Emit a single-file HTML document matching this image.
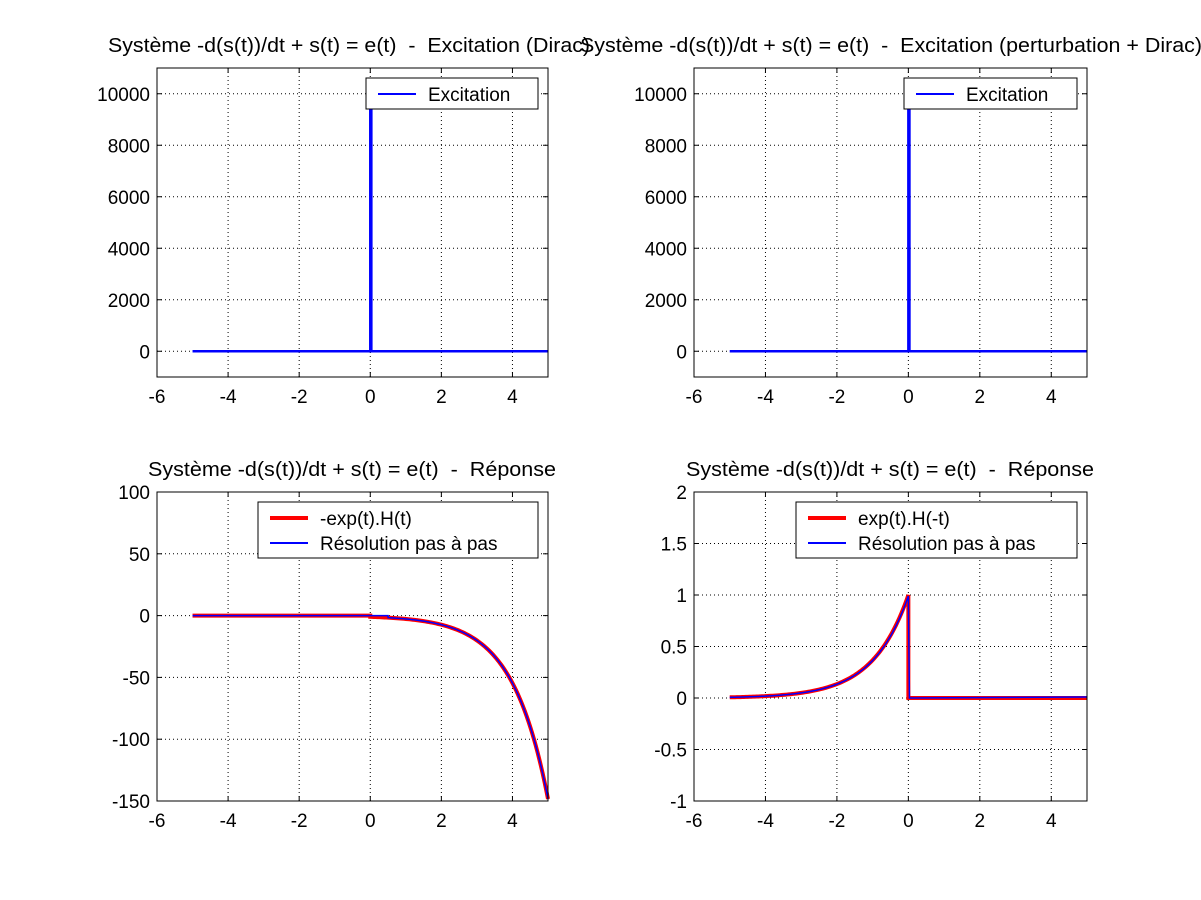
<!DOCTYPE html>
<html><head><meta charset="utf-8"><style>body{margin:0;background:#fff}svg{display:block;font-family:"Liberation Sans",Arial,sans-serif}text{white-space:pre}</style></head>
<body>
<svg id="s" width="1201" height="900" xmlns="http://www.w3.org/2000/svg"></svg>
<script>
const s=document.getElementById('s');let h='';
function ax(L,R,T,B,y0,y1,yt,title,tx,tw,fn){
 const X=t=>L+(t+6)/11*(R-L), Y=v=>T+(y1-v)/(y1-y0)*(B-T);
 h+=`<rect x="${L}" y="${T}" width="${R-L}" height="${B-T}" fill="#fff"/>`;
 for(let t=-4;t<=4;t+=2){const x=X(t);h+=`<line x1="${x}" y1="${T}" x2="${x}" y2="${B}" stroke="#000" stroke-dasharray="1,3" stroke-width="1"/>`;}
 yt.forEach(v=>{const y=Y(v);h+=`<line x1="${L}" y1="${y}" x2="${R}" y2="${y}" stroke="#000" stroke-dasharray="1,3" stroke-width="1"/><line x1="${L}" y1="${y}" x2="${L+5}" y2="${y}" stroke="#000"/><line x1="${R-5}" y1="${y}" x2="${R}" y2="${y}" stroke="#000"/><text x="${L-7}" y="${y+7}" font-size="19" text-anchor="end">${v}</text>`;});
 for(let t=-6;t<=4;t+=2){const x=X(t);h+=`<line x1="${x}" y1="${B}" x2="${x}" y2="${B-5}" stroke="#000"/><line x1="${x}" y1="${T}" x2="${x}" y2="${T+5}" stroke="#000"/><text x="${x}" y="${B+26}" font-size="19" text-anchor="middle">${t}</text>`;}
 fn(X,Y);
 h+=`<rect x="${L}" y="${T}" width="${R-L}" height="${B-T}" fill="none" stroke="#000"/>`;
 h+=`<text x="${tx}" y="${T-16}" font-size="20" textLength="${tw}" lengthAdjust="spacingAndGlyphs" xml:space="preserve">${title}</text>`;
}
function pl(pts,c,w){h+=`<polyline points="${pts.map(p=>p.join(',')).join(' ')}" fill="none" stroke="${c}" stroke-width="${w}"/>`;}
function dirac(X,Y){pl([[X(-5),Y(0)],[X(0),Y(0)],[X(0),Y(10000)],[X(0.03),Y(10000)],[X(0.03),Y(0)],[X(5),Y(0)]],'#00f',2.5);}
function leg1(x1,x2,y1,y2,items){
 h+=`<rect x="${x1}" y="${y1}" width="${x2-x1}" height="${y2-y1}" fill="#fff" stroke="#000"/>`;
 items.forEach((it,i)=>{const y=y1+16+i*25;h+=`<line x1="${x1+12}" y1="${y}" x2="${x1+50}" y2="${y}" stroke="${it[1]}" stroke-width="${it[2]}"/><text x="${x1+62}" y="${y+7}" font-size="19">${it[0]}</text>`;});
}
ax(157,548,68,377,-1000,11000,[0,2000,4000,6000,8000,10000],'Système -d(s(t))/dt + s(t) = e(t)  -  Excitation (Dirac)',108,482,(X,Y)=>{dirac(X,Y);leg1(366,538,78,109,[['Excitation','#00f',2]]);});
ax(694,1087,68,377,-1000,11000,[0,2000,4000,6000,8000,10000],'Système -d(s(t))/dt + s(t) = e(t)  -  Excitation (perturbation + Dirac)',580,622,(X,Y)=>{dirac(X,Y);leg1(904,1077,78,109,[['Excitation','#00f',2]]);});
ax(157,548,492,801,-150,100,[-150,-100,-50,0,50,100],'Système -d(s(t))/dt + s(t) = e(t)  -  Réponse',148,408,(X,Y)=>{
 let r=[[X(-5),Y(0)],[X(0),Y(0)]];for(let t=0;t<=5.001;t+=0.05)r.push([X(t),Y(-Math.exp(t))]);pl(r,'#f00',4);
 let b=[[X(-5),Y(0)],[X(0.5),Y(0)]];for(let t=0.5;t<=5.001;t+=0.05)b.push([X(t),Y(-Math.exp(t))]);pl(b,'#00f',1.5);
 leg1(258,538,502,558,[['-exp(t).H(t)','#f00',4],['Résolution pas à pas','#00f',2]]);});
ax(694,1087,492,801,-1,2,[-1,-0.5,0,0.5,1,1.5,2],'Système -d(s(t))/dt + s(t) = e(t)  -  Réponse',686,408,(X,Y)=>{
 let r=[];for(let t=-5;t<=0.001;t+=0.05)r.push([X(t),Y(Math.exp(t))]);r.push([X(0),Y(0)],[X(5),Y(0)]);pl(r,'#f00',4);
 let b=[];for(let t=-5;t<=0.001;t+=0.05)b.push([X(t),Y(Math.exp(t)*0.99)]);b.push([X(0.03),Y(0)],[X(5),Y(0.01)]);pl(b,'#00f',1.5);
 leg1(796,1077,502,558,[['exp(t).H(-t)','#f00',4],['Résolution pas à pas','#00f',2]]);});
s.innerHTML=h;
</script>
</body></html>
